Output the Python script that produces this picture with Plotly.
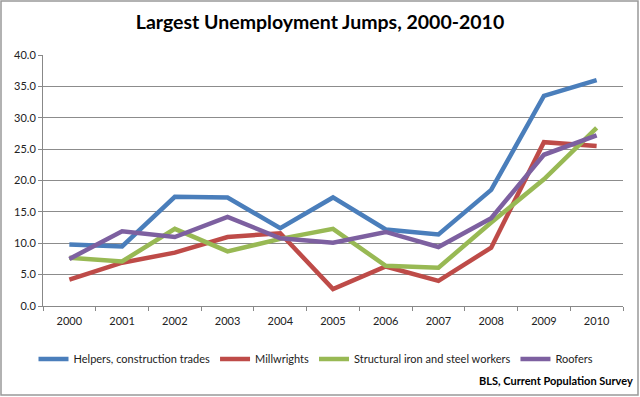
import plotly.graph_objects as go

years = ["2000", "2001", "2002", "2003", "2004", "2005", "2006", "2007", "2008", "2009", "2010"]
helpers = [9.8, 9.5, 17.4, 17.3, 12.4, 17.3, 12.2, 11.4, 18.5, 33.5, 36.0]
millwrights = [4.2, 6.9, 8.5, 11.0, 11.6, 2.7, 6.3, 4.0, 9.3, 26.1, 25.5]
structural = [7.7, 7.1, 12.3, 8.7, 10.7, 12.3, 6.4, 6.1, 13.3, 20.2, 28.4]
roofers = [7.5, 11.9, 11.0, 14.2, 10.8, 10.1, 11.8, 9.4, 14.0, 24.1, 27.2]

series = [
    ("Helpers, construction trades", helpers, "#4A7EBB"),
    ("Millwrights", millwrights, "#BE4B48"),
    ("Structural iron and steel workers", structural, "#98B954"),
    ("Roofers", roofers, "#7D60A0"),
]

FONT = "Lato, Open Sans, Liberation Sans, sans-serif"

fig = go.Figure()
for name, vals, col in series:
    fig.add_trace(go.Scatter(x=years, y=vals, mode="lines", name=name,
                             line=dict(color=col, width=4.5)))

W, H = 640, 397
ml, mr, mt, mb = 43, 17, 55, 91
pw, ph = W - ml - mr, H - mt - mb

fig.update_layout(
    width=W, height=H,
    margin=dict(l=ml, r=mr, t=mt, b=mb),
    paper_bgcolor="white", plot_bgcolor="white",
    font=dict(family=FONT, size=11, color="#222"),
    title=dict(text="<b>Largest Unemployment Jumps, 2000-2010</b>",
               x=0.5, xanchor="center", y=1 - 22 / H, yanchor="middle",
               font=dict(size=19.5, color="#000", family=FONT)),
    showlegend=True,
    legend=dict(orientation="h", x=(316 - ml) / pw, xanchor="center",
                y=-(359 - (H - mb)) / ph,
                yanchor="middle", font=dict(size=11, color="#222"),
                itemwidth=30, tracegroupgap=0, bgcolor="rgba(0,0,0,0)"),
    xaxis=dict(type="category", range=[-0.5, 10.5], showgrid=False, showline=True,
               linecolor="#888", linewidth=1, ticks="outside", tickson="boundaries",
               ticklen=4, tickcolor="#888", ticklabelstandoff=5,
               tickfont=dict(size=11, color="#222")),
    yaxis=dict(range=[0, 40], dtick=5, tickformat=".1f", showgrid=True,
               gridcolor="#8c8c8c", gridwidth=1, showline=True, linecolor="#888",
               ticks="outside", ticklen=4, tickcolor="#888", zeroline=False,
               tickfont=dict(size=11, color="#222")),
    shapes=[dict(type="rect", xref="paper", yref="paper",
                 x0=(1 - ml) / pw, x1=1 + (mr - 2) / pw,
                 y0=-(mb - 2) / ph, y1=1 + (mt - 1) / ph,
                 line=dict(color="#999", width=1.5))],
    annotations=[dict(text="<b>BLS, Current Population Survey</b>", xref="paper", yref="paper",
                      x=1 + (635 - (W - mr)) / pw, xanchor="right",
                      y=-(380 - (H - mb)) / ph, yanchor="middle", showarrow=False,
                      font=dict(size=11, color="#000", family=FONT))],
)

fig.write_html("out.html", config={"displayModeBar": False},
               post_script="document.body.style.margin='0';")
